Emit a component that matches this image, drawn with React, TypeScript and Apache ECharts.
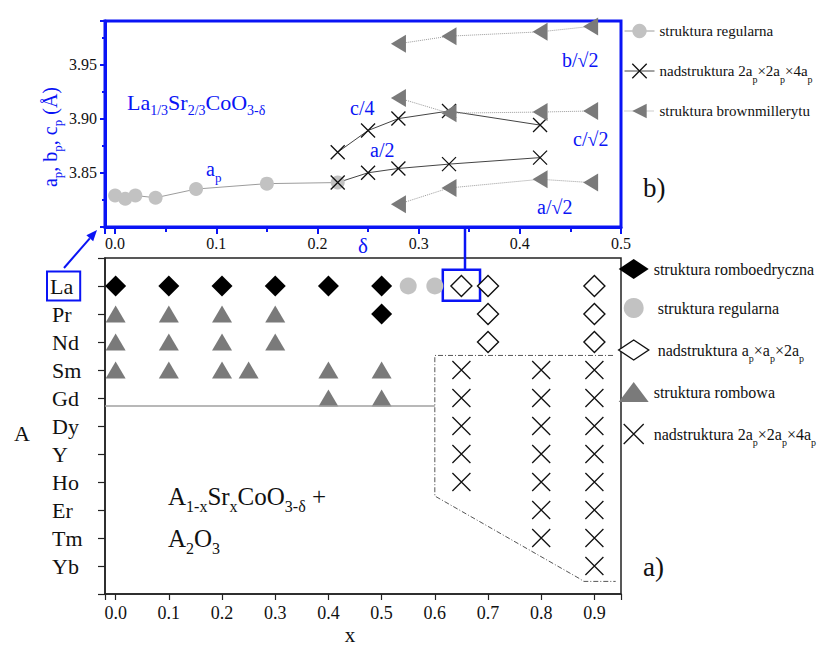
import React, { useEffect, useRef } from 'react';
import * as echarts from 'echarts';

const SERIF = '"Liberation Serif", "Times New Roman", Times, serif';
const BLUE = '#0a14f5';
const INK = '#111111';
const LIGHT = '#c2c2c2';
const DARK_GREY = '#7a7a7a';
const CROSS = 'path://M0,0L20,20M20,0L0,20';

// (b) lattice parameters of La1/3Sr2/3CoO3-δ versus oxygen deficiency δ
const deltaCubic = [0, 0.01, 0.02, 0.04, 0.08, 0.15, 0.22];
const apCubic = [3.829, 3.826, 3.829, 3.827, 3.835, 3.84, 3.841];
const deltaSuper = [0.22, 0.25, 0.28, 0.33, 0.42];
const cQuarter = [3.869, 3.889, 3.9, 3.907, 3.894];
const aHalf = [3.841, 3.85, 3.854, 3.858, 3.864];
const deltaBrown = [0.28, 0.33, 0.42, 0.47];
const bBrown = [3.969, 3.976, 3.98, 3.985];
const cBrown = [3.919, 3.905, 3.906, 3.907];
const aBrown = [3.821, 3.836, 3.844, 3.841];
const deltaTicks = [0, 0.1, 0.2, 0.3, 0.4, 0.5];
const latticeTicks = [3.85, 3.9, 3.95];

// (a) phase diagram of A1-xSrxCoO3-δ
const elements = ['La', 'Pr', 'Nd', 'Sm', 'Gd', 'Dy', 'Y', 'Ho', 'Er', 'Tm', 'Yb'];
const xTicks = [0, 0.1, 0.2, 0.3, 0.4, 0.5, 0.6, 0.7, 0.8, 0.9];
const rhombohedral: [number, string][] = [
  [0, 'La'], [0.1, 'La'], [0.2, 'La'], [0.3, 'La'], [0.4, 'La'], [0.5, 'La'], [0.5, 'Pr'],
];
const cubic: [number, string][] = [[0.55, 'La'], [0.6, 'La']];
const doubledCell: [number, string][] = [
  [0.65, 'La'], [0.7, 'La'], [0.9, 'La'], [0.7, 'Pr'], [0.9, 'Pr'], [0.7, 'Nd'], [0.9, 'Nd'],
];
const orthorhombic: [number, string][] = [
  [0, 'Pr'], [0.1, 'Pr'], [0.2, 'Pr'], [0.3, 'Pr'],
  [0, 'Nd'], [0.1, 'Nd'], [0.2, 'Nd'], [0.3, 'Nd'],
  [0, 'Sm'], [0.1, 'Sm'], [0.2, 'Sm'], [0.25, 'Sm'], [0.4, 'Sm'], [0.5, 'Sm'],
  [0.4, 'Gd'], [0.5, 'Gd'],
];
const quadrupledCell: [number, string][] = [
  [0.65, 'Sm'], [0.8, 'Sm'], [0.9, 'Sm'],
  [0.65, 'Gd'], [0.8, 'Gd'], [0.9, 'Gd'],
  [0.65, 'Dy'], [0.8, 'Dy'], [0.9, 'Dy'],
  [0.65, 'Y'], [0.8, 'Y'], [0.9, 'Y'],
  [0.65, 'Ho'], [0.8, 'Ho'], [0.9, 'Ho'],
  [0.8, 'Er'], [0.9, 'Er'],
  [0.8, 'Tm'], [0.9, 'Tm'],
  [0.9, 'Yb'],
];
// phase-boundary guides in (x, row) coordinates
const solubilityLimit = [[-0.02, 5.29], [0.6, 5.29]];
const twoPhaseBorder = [[0.935, 3.48], [0.6, 3.48], [0.6, 8.5], [0.872, 11.45], [0.88, 11.55], [0.94, 11.55]];

const zip = (xs: number[], ys: number[]) => xs.map((x, i) => [x, ys[i]]);
const rows = (pts: [number, string][]) => pts.map(([x, el]) => [x, elements.indexOf(el) + 1]);
const tickFmt = (ticks: number[], digits: number) => (v: number) =>
  ticks.some((t) => Math.abs(t - v) < 1e-6) ? v.toFixed(digits) : '';

const subStyle = (size: number, drop: number, color?: string) => ({
  fontFamily: SERIF,
  fontSize: size,
  padding: [drop * 2, 0, 0, 0],
  lineHeight: size,
  ...(color ? { fill: color, color } : {}),
});

// legend keys and their typeset form
const UP_CUBIC = 'struktura regularna';
const UP_SUPER = 'nadstruktura 2ap×2ap×4ap ';
const UP_BROWN = 'struktura brownmillerytu';
const LO_RHOMBO = 'struktura romboedryczna';
const LO_CUBIC = ' struktura regularna';
const LO_DOUBLE = ' nadstruktura ap×ap×2ap';
const LO_ORTHO = 'struktura rombowa';
const LO_QUAD = 'nadstruktura 2ap×2ap×4ap';
const legendText: Record<string, string> = {
  [UP_CUBIC]: 'struktura regularna',
  [UP_SUPER]: 'nadstruktura 2a{s|p}×2a{s|p}×4a{s|p}',
  [UP_BROWN]: 'struktura brownmillerytu',
  [LO_RHOMBO]: 'struktura romboedryczna',
  [LO_CUBIC]: ' struktura regularna',
  [LO_DOUBLE]: ' nadstruktura a{s|p}×a{s|p}×2a{s|p}',
  [LO_ORTHO]: 'struktura rombowa',
  [LO_QUAD]: 'nadstruktura 2a{s|p}×2a{s|p}×4a{s|p}',
};

const annotation = (text: string, x: number, y: number, size: number, color: string, sub: number, drop: number) => ({
  type: 'text',
  x,
  y,
  silent: true,
  style: {
    text,
    fontFamily: SERIF,
    fontSize: size,
    fill: color,
    align: 'left',
    verticalAlign: 'middle',
    lineHeight: size + 4,
    rich: { s: subStyle(sub, drop, color) },
  },
});

function buildOption(): any {
  const legendTextStyle = (size: number) => ({
    fontFamily: SERIF,
    fontSize: size,
    color: INK,
    lineHeight: 20,
    rich: { s: subStyle(10, 8) },
  });
  const crossItem = { color: 'rgba(0,0,0,0)', borderColor: INK, borderWidth: 1.3 };

  // arrow from the boxed "La" label to panel (b)
  const tail = [64, 268];
  const tip = [97, 230];
  const len = Math.hypot(tip[0] - tail[0], tip[1] - tail[1]);
  const ux = (tip[0] - tail[0]) / len;
  const uy = (tip[1] - tail[1]) / len;
  const bx = tip[0] - ux * 11;
  const by = tip[1] - uy * 11;

  return {
    animation: false,
    backgroundColor: '#ffffff',
    grid: [
      { left: 105, top: 21, width: 516, height: 206, show: true, borderColor: BLUE, borderWidth: 3, backgroundColor: 'transparent' },
      { left: 105, top: 258, width: 516, height: 345, show: true, borderColor: '#222', borderWidth: 1.5, backgroundColor: 'transparent' },
    ],
    xAxis: [
      {
        gridIndex: 0,
        type: 'value',
        min: -0.01,
        max: 0.5,
        splitNumber: 5,
        axisLine: { onZero: false, lineStyle: { color: BLUE, width: 3 } },
        axisTick: { length: 7, lineStyle: { color: BLUE, width: 2 } },
        minorTick: { show: true, splitNumber: 2, length: 5, lineStyle: { color: BLUE, width: 2 } },
        splitLine: { show: false },
        axisLabel: { margin: 8, color: INK, fontFamily: SERIF, fontSize: 16, formatter: tickFmt(deltaTicks, 1) },
        name: 'δ',
        nameLocation: 'middle',
        nameGap: 8,
        nameMoveOverlap: false,
        nameTextStyle: { color: BLUE, fontFamily: SERIF, fontSize: 21 },
      },
      {
        gridIndex: 1,
        type: 'value',
        min: -0.02,
        max: 0.95,
        splitNumber: 10,
        axisLine: { onZero: false, lineStyle: { color: '#222', width: 1.5 } },
        axisTick: { length: 6, lineStyle: { color: '#222', width: 1.2 } },
        splitLine: { show: false },
        axisLabel: { margin: 10, color: INK, fontFamily: SERIF, fontSize: 18, formatter: tickFmt(xTicks, 1) },
        name: 'x',
        nameLocation: 'middle',
        nameGap: 30,
        nameMoveOverlap: false,
        nameTextStyle: { color: INK, fontFamily: SERIF, fontSize: 21, padding: [0, 26, 0, 0] },
      },
    ],
    yAxis: [
      {
        gridIndex: 0,
        type: 'value',
        min: 3.8,
        max: 3.99,
        interval: 0.05,
        axisLine: { onZero: false, lineStyle: { color: BLUE, width: 3 } },
        axisTick: { length: 5, lineStyle: { color: BLUE, width: 2 } },
        minorTick: { show: true, splitNumber: 2, length: 3, lineStyle: { color: BLUE, width: 2 } },
        splitLine: { show: false },
        axisLabel: { margin: 8, color: INK, fontFamily: SERIF, fontSize: 16, formatter: tickFmt(latticeTicks, 2) },
        name: 'a{s|p}, b{s|p}, c{s|p} (Å)',
        nameLocation: 'middle',
        nameRotate: 90,
        nameGap: 44,
        nameMoveOverlap: false,
        nameTextStyle: {
          color: BLUE,
          fontFamily: SERIF,
          fontSize: 20,
          lineHeight: 22,
          padding: [0, 26, 0, 0],
          rich: { s: subStyle(13, 7) },
        },
      },
      {
        gridIndex: 1,
        type: 'value',
        min: 0,
        max: 12,
        interval: 1,
        inverse: true,
        axisLine: { onZero: false, lineStyle: { color: '#222', width: 1.5 } },
        axisTick: { length: 7, lineStyle: { color: '#222', width: 1.2 } },
        splitLine: { show: false },
        axisLabel: {
          align: 'left',
          margin: 58,
          color: INK,
          fontFamily: SERIF,
          fontSize: 22,
          formatter: (v: number) => {
            const el = elements[Math.round(v) - 1];
            if (!el || Math.abs(v - Math.round(v)) > 1e-6) return '';
            return el === 'La' ? `{box|${el}}` : `{n|${el}}`;
          },
          rich: {
            n: { fontFamily: SERIF, fontSize: 22, color: INK, padding: [0, 0, 0, 5] },
            box: { fontFamily: SERIF, fontSize: 22, color: INK, borderColor: BLUE, borderWidth: 2, padding: [4, 7, 3, 3] },
          },
        },
        name: 'A',
        nameLocation: 'middle',
        nameRotate: 0,
        nameGap: 75,
        nameMoveOverlap: false,
        nameTextStyle: { color: INK, fontFamily: SERIF, fontSize: 22, lineHeight: 14, verticalAlign: 'top' },
      },
    ],
    legend: [
      {
        left: 624,
        top: 21,
        padding: 0,
        orient: 'vertical',
        itemWidth: 30,
        itemHeight: 18,
        itemGap: 17,
        selectedMode: false,
        lineStyle: { width: 1 },
        data: [UP_CUBIC, { name: UP_SUPER, itemStyle: { borderWidth: 1.3 } }, UP_BROWN],
        formatter: (n: string) => legendText[n] ?? n,
        textStyle: legendTextStyle(15),
      },
      {
        left: 618,
        top: 259,
        padding: 0,
        orient: 'vertical',
        itemWidth: 30,
        itemHeight: 20,
        itemGap: 19,
        selectedMode: false,
        data: [
          LO_RHOMBO,
          LO_CUBIC,
          { name: LO_DOUBLE, itemStyle: { borderWidth: 1.4 } },
          LO_ORTHO,
          { name: LO_QUAD, itemStyle: { borderWidth: 1.3 } },
        ],
        formatter: (n: string) => legendText[n] ?? n,
        textStyle: legendTextStyle(16),
      },
    ],
    series: [
      // panel (b)
      {
        type: 'line',
        name: UP_CUBIC,
        xAxisIndex: 0,
        yAxisIndex: 0,
        data: zip(deltaCubic, apCubic),
        symbol: 'circle',
        symbolSize: 14,
        itemStyle: { color: LIGHT },
        lineStyle: { color: '#9c9c9c', width: 1 },
      },
      ...[cQuarter, aHalf].map((vals) => ({
        type: 'line',
        name: UP_SUPER,
        xAxisIndex: 0,
        yAxisIndex: 0,
        data: zip(deltaSuper, vals),
        symbol: CROSS,
        symbolSize: 14,
        itemStyle: crossItem,
        lineStyle: { color: '#444', width: 1 },
        z: 3,
      })),
      ...[bBrown, cBrown, aBrown].map((vals) => ({
        type: 'line',
        name: UP_BROWN,
        xAxisIndex: 0,
        yAxisIndex: 0,
        data: zip(deltaBrown, vals),
        symbol: 'triangle',
        symbolRotate: 90,
        symbolSize: [18, 15],
        itemStyle: { color: DARK_GREY },
        lineStyle: { color: '#9a9a9a', width: 1, type: 'dotted' },
        z: 4,
      })),
      // panel (a)
      {
        type: 'line',
        name: 'solubility',
        xAxisIndex: 1,
        yAxisIndex: 1,
        data: solubilityLimit,
        symbol: 'none',
        silent: true,
        lineStyle: { color: '#a0a0a0', width: 1.5 },
      },
      {
        type: 'line',
        name: 'two-phase',
        xAxisIndex: 1,
        yAxisIndex: 1,
        data: twoPhaseBorder,
        symbol: 'none',
        silent: true,
        lineStyle: { color: '#555', width: 1, type: [5, 2, 1, 2] },
      },
      {
        type: 'scatter',
        name: LO_RHOMBO,
        xAxisIndex: 1,
        yAxisIndex: 1,
        data: rows(rhombohedral),
        symbol: 'diamond',
        symbolSize: 21,
        itemStyle: { color: '#000', opacity: 1 },
      },
      {
        type: 'scatter',
        name: LO_CUBIC,
        xAxisIndex: 1,
        yAxisIndex: 1,
        data: rows(cubic),
        symbol: 'circle',
        symbolSize: 17,
        itemStyle: { color: LIGHT, opacity: 1 },
      },
      {
        type: 'scatter',
        name: LO_DOUBLE,
        xAxisIndex: 1,
        yAxisIndex: 1,
        data: rows(doubledCell),
        symbol: 'diamond',
        symbolSize: 21,
        itemStyle: { color: '#ffffff', borderColor: INK, borderWidth: 1.4, opacity: 1 },
        markArea: {
          silent: true,
          itemStyle: { color: 'rgba(0,0,0,0)', borderColor: BLUE, borderWidth: 2.5 },
          data: [[{ xAxis: 0.615, yAxis: 0.42 }, { xAxis: 0.685, yAxis: 1.53 }]],
        },
      },
      {
        type: 'scatter',
        name: LO_ORTHO,
        xAxisIndex: 1,
        yAxisIndex: 1,
        data: rows(orthorhombic),
        symbol: 'triangle',
        symbolSize: [20, 17],
        itemStyle: { color: DARK_GREY, opacity: 1 },
      },
      {
        type: 'scatter',
        name: LO_QUAD,
        xAxisIndex: 1,
        yAxisIndex: 1,
        data: rows(quadrupledCell),
        symbol: CROSS,
        symbolSize: 18,
        itemStyle: { ...crossItem, opacity: 1 },
      },
    ],
    graphic: [
      annotation('La{s|1/3}Sr{s|2/3}CoO{s|3-δ}', 127, 102, 22, BLUE, 14, 8),
      annotation('a{s|p}', 206, 169, 20, BLUE, 13, 8),
      annotation('c/4', 350, 108, 20, BLUE, 13, 8),
      annotation('a/2', 370, 150, 20, BLUE, 13, 8),
      annotation('b/√2', 562, 60, 20, BLUE, 13, 8),
      annotation('c/√2', 573, 139, 20, BLUE, 13, 8),
      annotation('a/√2', 537, 207, 20, BLUE, 13, 8),
      annotation('b)', 643, 188, 27, INK, 13, 8),
      annotation('A{s|1-x}Sr{s|x}CoO{s|3-δ} +', 168, 496, 25, INK, 16, 10),
      annotation('A{s|2}O{s|3}', 168, 538, 25, INK, 16, 10),
      annotation('a)', 643, 567, 27, INK, 13, 8),
      {
        type: 'line',
        silent: true,
        shape: { x1: tail[0], y1: tail[1], x2: bx, y2: by },
        style: { stroke: BLUE, lineWidth: 2 },
      },
      {
        type: 'polygon',
        silent: true,
        shape: {
          points: [
            tip,
            [bx - uy * 4.5, by + ux * 4.5],
            [bx + uy * 4.5, by - ux * 4.5],
          ],
        },
        style: { fill: BLUE },
      },
      {
        type: 'line',
        silent: true,
        shape: { x1: 465, y1: 228, x2: 465, y2: 270 },
        style: { stroke: BLUE, lineWidth: 2.5 },
      },
    ],
  };
}

export default function App() {
  const ref = useRef<HTMLDivElement>(null);
  useEffect(() => {
    if (!ref.current) return;
    const chart = echarts.init(ref.current, undefined, { renderer: 'svg' });
    chart.setOption(buildOption());
    return () => chart.dispose();
  }, []);
  return (
    <div
      ref={ref}
      style={{ position: 'fixed', left: 0, top: 0, width: 817, height: 650, background: '#ffffff' }}
    />
  );
}
